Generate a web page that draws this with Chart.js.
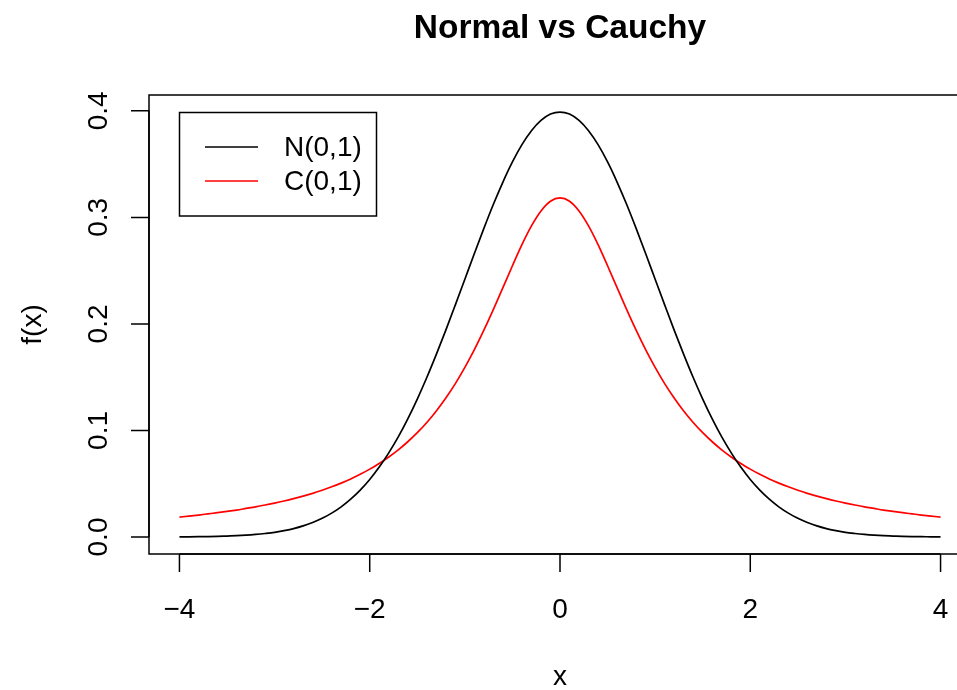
<!DOCTYPE html>
<html>
<head>
<meta charset="utf-8">
<script src="https://cdn.jsdelivr.net/npm/chart.js@4"></script>
<style>
  html, body { margin: 0; padding: 0; background: #fff; }
  #wrap { width: 957px; height: 690px; overflow: hidden; position: relative; }
  canvas { display: block; }
</style>
</head>
<body>
<div id="wrap"><canvas id="chart" width="1000" height="690"></canvas></div>
<script>
const chartTitle = 'Normal vs Cauchy';
const xLabel = 'x';
const yLabel = 'f(x)';
const xTicks = [-4, -2, 0, 2, 4];
const yTicks = [0.0, 0.1, 0.2, 0.3, 0.4];
const seriesNames = ['N(0,1)', 'C(0,1)'];
const seriesColors = ['#000000', '#ff0000'];

const xs = [-4.0, -3.9, -3.8, -3.7, -3.6, -3.5, -3.4, -3.3, -3.2, -3.1,
            -3.0, -2.9, -2.8, -2.7, -2.6, -2.5, -2.4, -2.3, -2.2, -2.1,
            -2.0, -1.9, -1.8, -1.7, -1.6, -1.5, -1.4, -1.3, -1.2, -1.1,
            -1.0, -0.9, -0.8, -0.7, -0.6, -0.5, -0.4, -0.3, -0.2, -0.1,
            0.0, 0.1, 0.2, 0.3, 0.4, 0.5, 0.6, 0.7, 0.8, 0.9,
            1.0, 1.1, 1.2, 1.3, 1.4, 1.5, 1.6, 1.7, 1.8, 1.9,
            2.0, 2.1, 2.2, 2.3, 2.4, 2.5, 2.6, 2.7, 2.8, 2.9,
            3.0, 3.1, 3.2, 3.3, 3.4, 3.5, 3.6, 3.7, 3.8, 3.9, 4.0];

const normalY = [0.0001, 0.0002, 0.0003, 0.0004, 0.0006, 0.0009, 0.0012, 0.0017, 0.0024, 0.0033,
                 0.0044, 0.0060, 0.0079, 0.0104, 0.0136, 0.0175, 0.0224, 0.0283, 0.0355, 0.0440,
                 0.0540, 0.0656, 0.0790, 0.0940, 0.1109, 0.1295, 0.1497, 0.1714, 0.1942, 0.2179,
                 0.2420, 0.2661, 0.2897, 0.3123, 0.3332, 0.3521, 0.3683, 0.3814, 0.3910, 0.3970,
                 0.3989, 0.3970, 0.3910, 0.3814, 0.3683, 0.3521, 0.3332, 0.3123, 0.2897, 0.2661,
                 0.2420, 0.2179, 0.1942, 0.1714, 0.1497, 0.1295, 0.1109, 0.0940, 0.0790, 0.0656,
                 0.0540, 0.0440, 0.0355, 0.0283, 0.0224, 0.0175, 0.0136, 0.0104, 0.0079, 0.0060,
                 0.0044, 0.0033, 0.0024, 0.0017, 0.0012, 0.0009, 0.0006, 0.0004, 0.0003, 0.0002, 0.0001];

const cauchyY = [0.0187, 0.0196, 0.0206, 0.0217, 0.0228, 0.0240, 0.0253, 0.0268, 0.0283, 0.0300,
                 0.0318, 0.0338, 0.0360, 0.0384, 0.0410, 0.0439, 0.0471, 0.0506, 0.0545, 0.0588,
                 0.0637, 0.0690, 0.0751, 0.0818, 0.0894, 0.0979, 0.1075, 0.1183, 0.1305, 0.1440,
                 0.1592, 0.1759, 0.1941, 0.2136, 0.2341, 0.2546, 0.2744, 0.2920, 0.3061, 0.3152,
                 0.3183, 0.3152, 0.3061, 0.2920, 0.2744, 0.2546, 0.2341, 0.2136, 0.1941, 0.1759,
                 0.1592, 0.1440, 0.1305, 0.1183, 0.1075, 0.0979, 0.0894, 0.0818, 0.0751, 0.0690,
                 0.0637, 0.0588, 0.0545, 0.0506, 0.0471, 0.0439, 0.0410, 0.0384, 0.0360, 0.0338,
                 0.0318, 0.0300, 0.0283, 0.0268, 0.0253, 0.0240, 0.0228, 0.0217, 0.0206, 0.0196, 0.0187];

const FONT = '"Liberation Sans", Arial, Helvetica, sans-serif';

// R-style box, axes, labels and legend
const rStyle = {
  id: 'rStyle',
  afterDraw(chart) {
    const c = chart.ctx;
    const a = chart.chartArea;
    const sx = chart.scales.x;
    const sy = chart.scales.y;
    c.save();
    c.strokeStyle = '#000';
    c.fillStyle = '#000';
    c.lineWidth = 1.5;
    c.strokeRect(a.left, a.top, a.right - a.left, a.bottom - a.top);

    // x axis
    c.font = '28px ' + FONT;
    c.textAlign = 'center';
    c.textBaseline = 'alphabetic';
    c.beginPath();
    c.moveTo(sx.getPixelForValue(xTicks[0]), a.bottom);
    c.lineTo(sx.getPixelForValue(xTicks[xTicks.length - 1]), a.bottom);
    xTicks.forEach(v => {
      const px = sx.getPixelForValue(v);
      c.moveTo(px, a.bottom);
      c.lineTo(px, a.bottom + 18);
    });
    c.stroke();
    xTicks.forEach(v => {
      const px = sx.getPixelForValue(v);
      c.fillText(v < 0 ? '\u2212' + Math.abs(v) : String(v), px, 618);
    });
    c.fillText(xLabel, (a.left + a.right) / 2, 685);

    // y axis
    c.beginPath();
    c.moveTo(a.left, sy.getPixelForValue(yTicks[0]));
    c.lineTo(a.left, sy.getPixelForValue(yTicks[yTicks.length - 1]));
    yTicks.forEach(v => {
      const py = sy.getPixelForValue(v);
      c.moveTo(a.left, py);
      c.lineTo(a.left - 18, py);
    });
    c.stroke();
    yTicks.forEach(v => {
      const py = sy.getPixelForValue(v);
      c.save();
      c.translate(107, py);
      c.rotate(-Math.PI / 2);
      c.fillText(v.toFixed(1), 0, 0);
      c.restore();
    });
    c.save();
    c.translate(41, (a.top + a.bottom) / 2);
    c.rotate(-Math.PI / 2);
    c.fillText(yLabel, 0, 0);
    c.restore();

    // title
    c.font = 'bold 33.5px ' + FONT;
    c.fillText(chartTitle, (a.left + a.right) / 2, 38);

    // legend
    c.lineWidth = 1.5;
    c.strokeRect(179.5, 112.5, 197, 103.5);
    c.font = '28px ' + FONT;
    c.textAlign = 'left';
    c.textBaseline = 'middle';
    seriesNames.forEach((name, i) => {
      const y = 147 + i * 34;
      c.strokeStyle = seriesColors[i];
      c.beginPath();
      c.moveTo(205, y);
      c.lineTo(258, y);
      c.stroke();
      c.fillText(name, 284, y + 1);
    });
    c.restore();
  }
};

new Chart(document.getElementById('chart').getContext('2d'), {
  type: 'line',
  data: {
    datasets: [
      {
        label: seriesNames[0],
        data: xs.map((x, i) => ({ x: x, y: normalY[i] })),
        borderColor: seriesColors[0],
        borderWidth: 1.7,
        pointRadius: 0,
        cubicInterpolationMode: 'monotone',
        fill: false
      },
      {
        label: seriesNames[1],
        data: xs.map((x, i) => ({ x: x, y: cauchyY[i] })),
        borderColor: seriesColors[1],
        borderWidth: 1.7,
        pointRadius: 0,
        cubicInterpolationMode: 'monotone',
        fill: false
      }
    ]
  },
  options: {
    responsive: false,
    animation: false,
    layout: { padding: { left: 149, right: 29, top: 95, bottom: 136 } },
    plugins: {
      legend: { display: false },
      title: { display: false },
      tooltip: { enabled: false }
    },
    scales: {
      x: { type: 'linear', min: -4.32, max: 4.32, display: false },
      y: { type: 'linear', min: -0.01596, max: 0.41489, display: false }
    }
  },
  plugins: [rStyle]
});
</script>
</body>
</html>
